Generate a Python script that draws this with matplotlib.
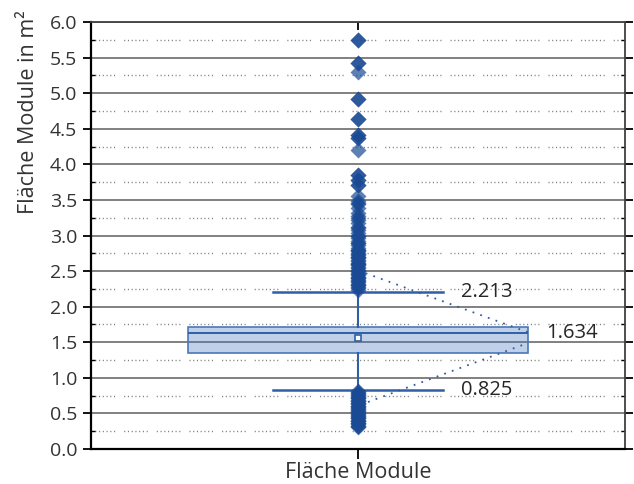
import matplotlib
matplotlib.use("Agg")
import matplotlib.pyplot as plt
from matplotlib.ticker import MultipleLocator, FormatStrFormatter

plt.rcParams['font.family'] = ['Open Sans', 'DejaVu Sans']

# Box statistics (m²)
category = "Fläche Module"
q1 = 1.35
median = 1.634
q3 = 1.72
mean = 1.56
whisker_low = 0.825
whisker_high = 2.213

# Outliers above the upper whisker (repeated values are stacked observations)
outliers_high = [2.24, 2.26, 2.28, 2.30, 2.32, 2.34, 2.36, 2.38, 2.40, 2.42,
                 2.44, 2.46, 2.48, 2.50, 2.52, 2.54, 2.56, 2.58, 2.60, 2.62,
                 2.64, 2.66, 2.68, 2.70, 2.72, 2.74, 2.76, 2.78, 2.80, 2.83,
                 2.86, 2.89, 2.92, 2.96, 3.00, 3.04, 3.08, 3.12, 3.17, 3.22,
                 3.27, 3.31, 3.38, 3.44, 3.49, 3.55,
                 2.30, 2.40, 2.50, 2.60, 2.70, 2.80, 2.90, 3.00, 3.10, 3.25,
                 3.45, 3.71, 3.71, 3.78, 3.78, 3.85, 3.85,
                 4.20, 4.37, 4.37, 4.41, 4.41, 4.64, 4.64, 4.92, 4.92,
                 5.30, 5.42, 5.42, 5.75, 5.75]

# Outliers below the lower whisker
outliers_low = [0.31, 0.33, 0.35, 0.37, 0.39, 0.41, 0.43, 0.45, 0.47, 0.49,
                0.51, 0.53, 0.55, 0.57, 0.59, 0.61, 0.63, 0.65, 0.67, 0.69,
                0.71, 0.73, 0.75, 0.77, 0.79, 0.81,
                0.32, 0.36, 0.40, 0.44, 0.48, 0.52, 0.56, 0.60, 0.64, 0.68,
                0.72, 0.76, 0.80]

y_ticks = [0.0, 0.5, 1.0, 1.5, 2.0, 2.5, 3.0, 3.5, 4.0, 4.5, 5.0, 5.5, 6.0]

dark_blue = '#1A4A94'
line_blue = '#2F5FA6'
text_color = '#333333'

fig = plt.figure(figsize=(6.34, 4.84), dpi=100)
ax = fig.add_axes([91 / 634, 35 / 484, 534 / 634, 427 / 484])

stats = [dict(med=median, q1=q1, q3=q3, whislo=whisker_low, whishi=whisker_high,
              mean=mean, fliers=[], label=category)]
ax.bxp(stats, positions=[1], widths=0.637, capwidths=0.32, showmeans=True,
       showfliers=False, patch_artist=True,
       boxprops=dict(facecolor=(0.29, 0.48, 0.75, 0.35), edgecolor='#4A78B8', linewidth=1.2),
       medianprops=dict(color=line_blue, linewidth=1.4),
       whiskerprops=dict(color=line_blue, linewidth=1.5),
       capprops=dict(color=line_blue, linewidth=1.8),
       meanprops=dict(marker='s', markersize=3.8, markerfacecolor='white',
                      markeredgecolor=line_blue, markeredgewidth=1.2),
       zorder=3)

fliers = outliers_high + outliers_low
ax.plot([1] * len(fliers), fliers, linestyle='none', marker='D', markersize=8,
        markerfacecolor=dark_blue, markeredgecolor='none', alpha=0.7, zorder=4)

# Leader lines from the outlier column to the box edge
box_right = 1 + 0.637 / 2
ax.plot([1.0144, box_right], [2.47, 1.64], linestyle=(0, (1, 3.5)), color=line_blue,
        linewidth=1.3, zorder=4)
ax.plot([1.0187, box_right], [0.66, 1.49], linestyle=(0, (1, 3.5)), color=line_blue,
        linewidth=1.3, zorder=4)

# Value labels
ax.text(1.193, whisker_high, f"{whisker_high:.3f}", fontsize=14.5, color='#262626',
        va='center', ha='left', zorder=5)
ax.text(1.353, median, f"{median:.3f}", fontsize=14.5, color='#262626',
        va='center', ha='left', zorder=5)
ax.text(1.193, whisker_low, f"{whisker_low:.3f}", fontsize=14.5, color='#262626',
        va='center', ha='left', zorder=5)

ax.set_xlim(0.5, 1.5)
ax.set_ylim(0, 6.0)
ax.set_yticks(y_ticks)
ax.yaxis.set_major_formatter(FormatStrFormatter('%.1f'))
ax.yaxis.set_minor_locator(MultipleLocator(0.25))
ax.set_xticks([1])
ax.set_xticklabels([category])

ax.grid(which='major', axis='y', color='#6b6b6b', linewidth=1.2, zorder=0)
ax.grid(which='minor', axis='y', color='#7f7f7f', linewidth=1.0,
        linestyle=(0, (0.8, 1.9, 0.8, 1.9, 0.8, 1.9, 0.8, 1.9, 0.8, 1.9, 0.8, 1.9, 0.8, 6.5)),
        zorder=0)
ax.set_axisbelow(True)

ax.tick_params(axis='y', which='major', direction='out', length=6, width=1.3,
               labelsize=14, labelcolor=text_color, pad=4, right=True)
ax.tick_params(axis='y', which='minor', direction='in', length=3, width=1.0, right=True)
ax.tick_params(axis='x', which='major', direction='out', length=7, width=1.3,
               labelsize=15.5, labelcolor=text_color, pad=2)

top = ax.secondary_xaxis('top')
top.set_xticks([1])
top.set_xticklabels([])
top.tick_params(direction='in', length=6, width=1.3)
top.spines['top'].set_visible(False)

for side in ('left', 'bottom'):
    ax.spines[side].set_color('black')
    ax.spines[side].set_linewidth(1.6)
for side in ('top', 'right'):
    ax.spines[side].set_color('#404040')
    ax.spines[side].set_linewidth(1.3)

fig.text(28 / 634, 1 - 112 / 484, "Fläche Module in m²", rotation=90, fontsize=15.5,
         color=text_color, ha='center', va='center')

fig.savefig('out.png', dpi=100)
